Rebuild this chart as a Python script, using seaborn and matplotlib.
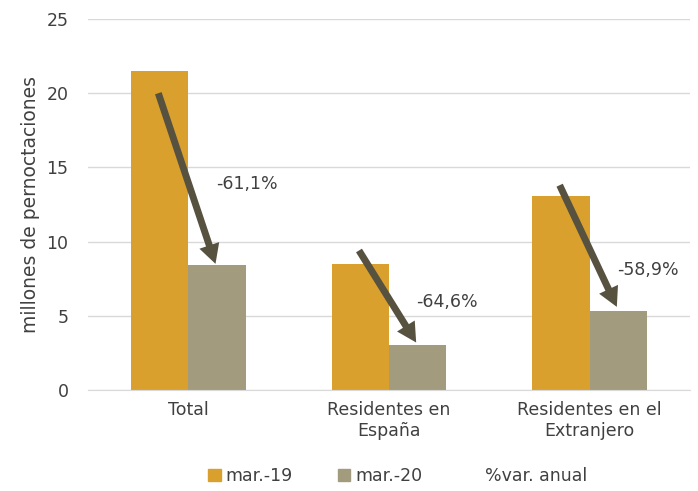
import numpy as np
import matplotlib
matplotlib.use("Agg")
import matplotlib.pyplot as plt
import matplotlib.patches as mpatches
import pandas as pd
import seaborn as sns

categorias = ["Total", "Residentes en\nEspaña", "Residentes en el\nExtranjero"]
mar19 = [21.5, 8.5, 13.1]
mar20 = [8.4, 3.0, 5.35]
variacion = ["-61,1%", "-64,6%", "-58,9%"]
# inicio y fin de las flechas (valores del eje y)
flecha_ini = [20.0, 9.4, 13.8]
flecha_fin = [8.5, 3.2, 5.6]
etiqueta_y = [13.9, 5.9, 8.1]

c19 = "#D9A02D"
c20 = "#A39B7D"
c_flecha = "#575140"
c_texto = "#404040"

df = pd.DataFrame({
    "cat": categorias * 2,
    "serie": ["mar.-19"] * 3 + ["mar.-20"] * 3,
    "valor": mar19 + mar20,
})

sns.set_style("white")
plt.rcParams["font.family"] = ["DejaVu Sans"]

fig = plt.figure(figsize=(6.98, 4.91), dpi=100)
ax = fig.add_axes([88 / 698, 1 - 390 / 491, 602 / 698, 371 / 491])

sns.barplot(data=df, x="cat", y="valor", hue="serie", palette=[c19, c20],
            width=0.57, saturation=1, ax=ax, legend=False, zorder=2,
            edgecolor="none", linewidth=0)

ax.set_ylim(0, 25)
ax.set_xlim(-0.5, 2.5)
ax.set_yticks(range(0, 26, 5))
ax.yaxis.grid(True, color="#D9D9D9", lw=1, zorder=0)
ax.set_axisbelow(True)
for s in ["top", "right", "left"]:
    ax.spines[s].set_visible(False)
ax.spines["bottom"].set_color("#D9D9D9")
ax.tick_params(axis="both", length=0, labelsize=12.5, colors=c_texto, pad=8)
ax.tick_params(axis="y", pad=14)
ax.set_xlabel("")
ax.set_ylabel("millones de pernoctaciones", fontsize=13.5, color=c_texto, labelpad=5)

dx = 0.57 / 4
for i in range(3):
    ax.annotate("", xy=(i + dx * 0.95, flecha_fin[i]), xytext=(i - dx * 1.05, flecha_ini[i]),
                arrowprops=dict(arrowstyle="simple,head_length=0.7,head_width=0.75,tail_width=0.25",
                                mutation_scale=20, fc=c_flecha, ec="none",
                                shrinkA=0, shrinkB=0),
                zorder=5)
    ax.text(i + 0.29, etiqueta_y[i], variacion[i], fontsize=12.5, color=c_texto,
            ha="center", va="center", zorder=6)

handles = [mpatches.Patch(color=c19, label="mar.-19"),
           mpatches.Patch(color=c20, label="mar.-20"),
           mpatches.Patch(color="none", label="%var. anual")]
fig.legend(handles=handles, loc="lower center", bbox_to_anchor=(0.57, -0.02), ncol=3,
           frameon=False, fontsize=12.5, handlelength=0.7, handleheight=0.7,
           handletextpad=0.3, columnspacing=2.6, labelcolor=c_texto)

fig.savefig("out.png", dpi=100)
